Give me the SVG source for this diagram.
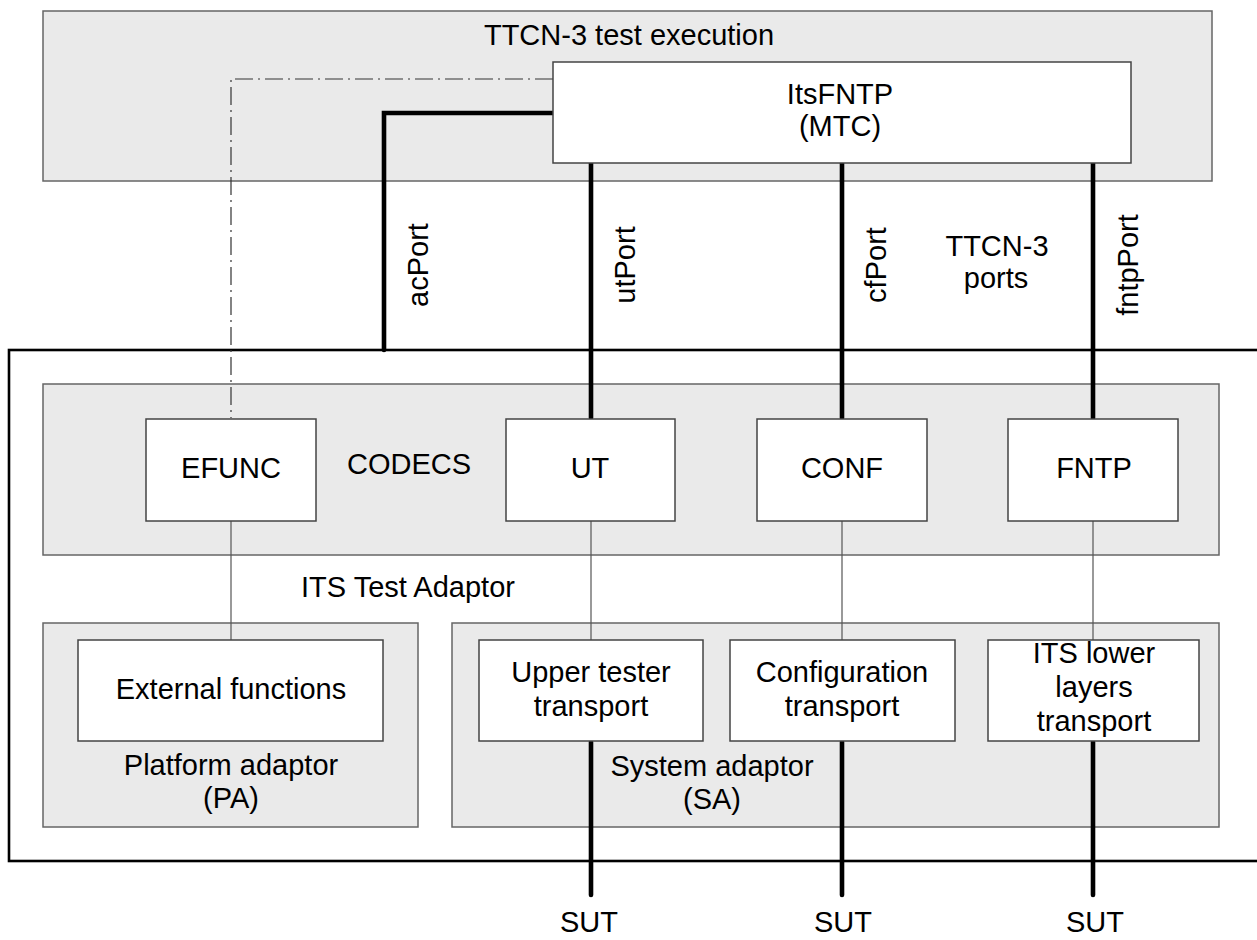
<svg xmlns="http://www.w3.org/2000/svg" width="1257" height="940" viewBox="0 0 1257 940">
<style>
  text { font-family: "Liberation Sans", Arial, sans-serif; font-size: 29px; fill: #000; text-anchor: middle; }
  .grp { fill: #eaeaea; stroke: #666; stroke-width: 1.5; }
  .box { fill: #fff; stroke: #444; stroke-width: 1.5; }
  .frame { fill: none; stroke: #000; stroke-width: 2.6; }
  .thick { fill: none; stroke: #000; stroke-width: 4.6; stroke-linecap: round; stroke-linejoin: miter; }
  .thin { fill: none; stroke: #555; stroke-width: 1.2; }
  .dashdot { fill: none; stroke: #333; stroke-width: 1.2; stroke-dasharray: 18 5 2 5; }
</style>
<g id="ttcn3-execution">
  <rect class="grp" x="43" y="11" width="1169" height="170"/>
  <text x="629" y="45">TTCN-3 test execution</text>
</g>
<g id="its-test-adaptor">
  <rect class="frame" x="9" y="350" width="1260" height="511"/>
  <text x="408" y="597">ITS Test Adaptor</text>
</g>
<g id="codecs">
  <rect class="grp" x="43" y="384" width="1176" height="171"/>
  <text x="409" y="474">CODECS</text>
</g>
<g id="platform-adaptor">
  <rect class="grp" x="43" y="623" width="375" height="204"/>
  <text x="231" y="775">Platform adaptor</text>
  <text x="231" y="808">(PA)</text>
</g>
<g id="system-adaptor">
  <rect class="grp" x="452" y="623" width="767" height="204"/>
  <text x="712" y="776">System adaptor</text>
  <text x="712" y="809">(SA)</text>
</g>
<g id="connectors">
  <path class="dashdot" d="M553,79 H231 V418"/>
  <path class="thick" d="M553,113 H384 V350"/>
  <path class="thick" d="M591,163 V418"/>
  <path class="thick" d="M842,163 V418"/>
  <path class="thick" d="M1093,163 V418"/>
  <path class="thin" d="M231,520 V640"/>
  <path class="thin" d="M591,520 V640"/>
  <path class="thin" d="M842,520 V640"/>
  <path class="thin" d="M1093,520 V640"/>
  <path class="thick" d="M591,742 V895"/>
  <path class="thick" d="M842,742 V895"/>
  <path class="thick" d="M1093,742 V895"/>
  <text transform="translate(428,265) rotate(-90)">acPort</text>
  <text transform="translate(635,265) rotate(-90)">utPort</text>
  <text transform="translate(886,265) rotate(-90)">cfPort</text>
  <text transform="translate(1138,265) rotate(-90)">fntpPort</text>
</g>
<g id="ttcn3-ports">
  <text x="997" y="256">TTCN-3</text>
  <text x="996" y="288">ports</text>
</g>
<g id="mtc">
  <rect class="box" x="553" y="62" width="578" height="101"/>
  <text x="840" y="104">ItsFNTP</text>
  <text x="840" y="136">(MTC)</text>
</g>
<g id="efunc">
  <rect class="box" x="146" y="419" width="170" height="102"/>
  <text x="231" y="478">EFUNC</text>
</g>
<g id="ut">
  <rect class="box" x="506" y="419" width="169" height="102"/>
  <text x="590" y="478">UT</text>
</g>
<g id="conf">
  <rect class="box" x="757" y="419" width="170" height="102"/>
  <text x="842" y="478">CONF</text>
</g>
<g id="fntp">
  <rect class="box" x="1008" y="419" width="170" height="102"/>
  <text x="1094" y="478">FNTP</text>
</g>
<g id="external-functions">
  <rect class="box" x="78" y="640" width="305" height="101"/>
  <text x="231" y="699">External functions</text>
</g>
<g id="upper-tester-transport">
  <rect class="box" x="479" y="640" width="224" height="101"/>
  <text x="591" y="682">Upper tester</text>
  <text x="591" y="716">transport</text>
</g>
<g id="configuration-transport">
  <rect class="box" x="730" y="640" width="225" height="101"/>
  <text x="842" y="682">Configuration</text>
  <text x="842" y="716">transport</text>
</g>
<g id="its-lower-layers-transport">
  <rect class="box" x="988" y="640" width="211" height="101"/>
  <text x="1094" y="663">ITS lower</text>
  <text x="1094" y="697">layers</text>
  <text x="1094" y="731">transport</text>
</g>
<g id="sut">
  <text x="589" y="932">SUT</text>
  <text x="843" y="932">SUT</text>
  <text x="1095" y="932">SUT</text>
</g>
</svg>
